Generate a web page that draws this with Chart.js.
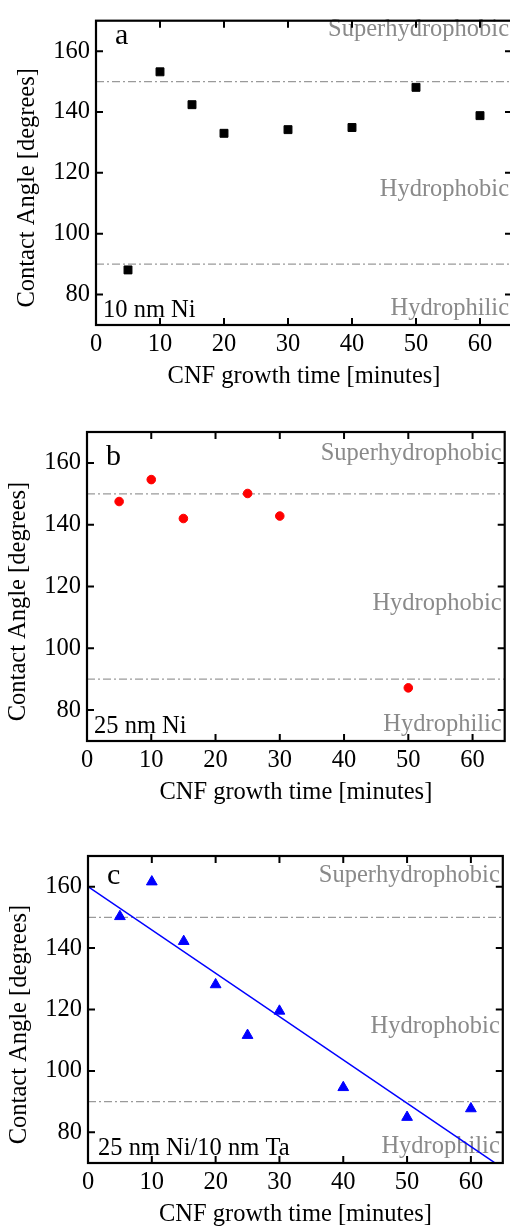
<!DOCTYPE html>
<html>
<head>
<meta charset="utf-8">
<script src="https://cdn.jsdelivr.net/npm/chart.js@4"></script>
<style>
  html, body { margin: 0; padding: 0; background: #fff; }
  body { width: 510px; height: 1227px; position: relative; overflow: hidden; }
  .panel { position: absolute; left: 0; }
</style>
</head>
<body>
<div class="panel" style="top:0px"><canvas id="chartA" width="520" height="400"></canvas></div>
<div class="panel" style="top:400px"><canvas id="chartB" width="510" height="415"></canvas></div>
<div class="panel" style="top:820px"><canvas id="chartC" width="510" height="407"></canvas></div>
<script>
// Data
const xTicks = [0, 10, 20, 30, 40, 50, 60];
const yTicks = [80, 100, 120, 140, 160];
const refLevels = [150, 90];

const timeA = [5, 10, 15, 20, 30, 40, 50, 60];
const angleA = [88.1, 153.2, 142.4, 133, 134.2, 134.9, 148.1, 138.8];

const timeB = [5, 10, 15, 25, 30, 50];
const angleB = [147.5, 154.6, 142, 150.1, 142.8, 87.2];

const timeC = [5, 10, 15, 20, 25, 30, 40, 50, 60];
const angleC = [150.3, 161.6, 142.2, 128.1, 111.6, 119.5, 94.6, 84.9, 87.7];

const fitX = [0, 65];
const fitY = [160, 68.3];

const FONT = "'Liberation Serif', 'Times New Roman', serif";
const GREY = "#8a8a8a";

const toPoints = (xs, ys) => xs.map((v, i) => ({ x: v, y: ys[i] }));

const refDatasets = () =>
  refLevels.map((lvl) => ({
    data: [
      { x: 0, y: lvl },
      { x: 65, y: lvl },
    ],
    showLine: true,
    borderColor: "#9a9a9a",
    borderWidth: 1.3,
    borderDash: [8, 3, 2, 3],
    pointRadius: 0,
  }));

// text, inward ticks and frame
const decor = {
  id: "decor",
  beforeDatasetsDraw(chart, args, o) {
    const { ctx, chartArea: a, scales } = chart;
    const y = scales.y;
    ctx.save();
    ctx.textBaseline = "alphabetic";
    ctx.fillStyle = GREY;
    ctx.font = `24.5px ${FONT}`;
    ctx.textAlign = "right";
    ctx.fillText("Superhydrophobic", a.right - 3, y.getPixelForValue(o.superY));
    ctx.fillText("Hydrophobic", a.right - 3, y.getPixelForValue(112.4));
    ctx.fillText("Hydrophilic", a.right - 3, y.getPixelForValue(73.3));
    ctx.fillStyle = "#000";
    ctx.textAlign = "left";
    ctx.fillText(o.sample, a.left + o.sampleDx, y.getPixelForValue(72.7));
    ctx.font = `30px ${FONT}`;
    ctx.fillText(o.letter, a.left + 19, y.getPixelForValue(o.letterY));
    ctx.restore();
  },
  afterDraw(chart) {
    const { ctx, chartArea: a, scales } = chart;
    const { x, y } = scales;
    ctx.save();
    ctx.strokeStyle = "#000";
    ctx.lineWidth = 2;
    ctx.beginPath();
    x.ticks.forEach((t) => {
      const px = x.getPixelForValue(t.value);
      ctx.moveTo(px, a.bottom);
      ctx.lineTo(px, a.bottom - 7);
      ctx.moveTo(px, a.top);
      ctx.lineTo(px, a.top + 7);
    });
    y.ticks.forEach((t) => {
      const py = y.getPixelForValue(t.value);
      ctx.moveTo(a.left, py);
      ctx.lineTo(a.left + 7, py);
      ctx.moveTo(a.right, py);
      ctx.lineTo(a.right - 7, py);
    });
    ctx.stroke();
    ctx.lineWidth = 2.2;
    ctx.strokeRect(a.left, a.top, a.right - a.left, a.bottom - a.top);

    ctx.fillStyle = "#000";
    ctx.font = `24.5px ${FONT}`;
    ctx.textAlign = "center";
    ctx.textBaseline = "middle";
    ctx.fillText("CNF growth time [minutes]", (a.left + a.right) / 2, a.bottom + 52);
    ctx.translate(a.left - 68, (a.top + a.bottom) / 2 + 15);
    ctx.rotate(-Math.PI / 2);
    ctx.fillText("Contact Angle [degrees]", 0, 0);
    ctx.restore();
  },
};

const makeChart = (id, box, datasets, decorOpts) => {
  const canvas = document.getElementById(id);
  const W = canvas.width;
  const H = canvas.height;
  return new Chart(canvas, {
    type: "scatter",
    data: { datasets },
    options: {
      responsive: false,
      animation: false,
      events: [],
      layout: {
        padding: { top: box.top, right: W - box.right, left: 0, bottom: 0 },
      },
      plugins: {
        legend: { display: false },
        tooltip: { enabled: false },
        decor: decorOpts,
      },
      scales: {
        x: {
          type: "linear",
          min: 0,
          max: 65,
          afterBuildTicks: (s) => {
            s.ticks = xTicks.map((v) => ({ value: v }));
          },
          afterFit: (s) => {
            s.height = H - box.bottom;
          },
          grid: { display: false, drawTicks: false },
          border: { display: false },
          ticks: {
            padding: 5,
            color: "#000",
            font: { family: FONT, size: 24.5 },
            maxRotation: 0,
          },
        },
        y: {
          type: "linear",
          min: 70,
          max: 170,
          afterBuildTicks: (s) => {
            s.ticks = yTicks.map((v) => ({ value: v }));
          },
          afterFit: (s) => {
            s.width = box.left;
          },
          grid: { display: false, drawTicks: false },
          border: { display: false },
          ticks: {
            padding: 6,
            color: "#000",
            font: { family: FONT, size: 24.5 },
          },
        },
      },
    },
    plugins: [decor],
  });
};

makeChart(
  "chartA",
  { left: 96, top: 17, right: 512, bottom: 325 },
  [
    {
      data: toPoints(timeA, angleA),
      pointStyle: "rect",
      pointRadius: 5.6,
      borderWidth: 1,
      backgroundColor: "#000",
      borderColor: "#000",
    },
    ...refDatasets(),
  ],
  { letter: "a", letterY: 162.5, superY: 164.9, sample: "10 nm Ni", sampleDx: 7 }
);

makeChart(
  "chartB",
  { left: 87, top: 32, right: 505, bottom: 341 },
  [
    {
      data: toPoints(timeB, angleB),
      pointStyle: "circle",
      pointRadius: 4.3,
      borderWidth: 1,
      backgroundColor: "#ff0000",
      borderColor: "#ff0000",
    },
    ...refDatasets(),
  ],
  { letter: "b", letterY: 159.4, superY: 161.1, sample: "25 nm Ni", sampleDx: 7 }
);

makeChart(
  "chartC",
  { left: 88, top: 36, right: 505, bottom: 343 },
  [
    {
      data: toPoints(timeC, angleC),
      pointStyle: "triangle",
      pointRadius: 6.2,
      borderWidth: 1,
      backgroundColor: "#0000ff",
      borderColor: "#0000ff",
    },
    {
      data: toPoints(fitX, fitY),
      showLine: true,
      borderColor: "#0000ff",
      borderWidth: 1.5,
      pointRadius: 0,
    },
    ...refDatasets(),
  ],
  { letter: "c", letterY: 160.9, superY: 161.6, sample: "25 nm Ni/10 nm Ta", sampleDx: 10 }
);
</script>
</body>
</html>
